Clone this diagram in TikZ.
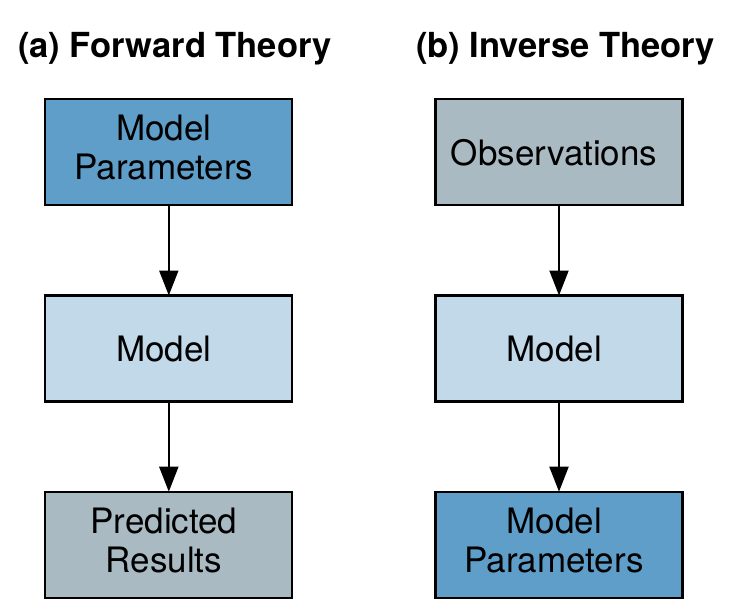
\documentclass[tikz,border=0pt]{standalone}
\usepackage{fontspec}
\setmainfont{TeX Gyre Heros}
\usetikzlibrary{matrix}
\usetikzlibrary{arrows.meta}
\definecolor{paramblue}{HTML}{5E9EC9}
\definecolor{modelblue}{HTML}{C1D9E9}
\definecolor{obsgrey}{HTML}{A9BAC3}
\newcommand{\boxfont}{\fontsize{35}{39}\selectfont}
\newcommand{\titlefont}{\fontsize{34.5}{39}\selectfont\bfseries}
\newcommand{\twolines}[2]{\begin{tabular}{@{}c@{}}#1\\#2\end{tabular}}

\begin{document}
\begin{tikzpicture}[x=1pt,y=1pt]
  \useasboundingbox (0,0) rectangle (738,-613);
  \node[anchor=base west,inner sep=0pt] (fwd) at (18,-57) {\titlefont (a) Forward Theory};
  \node[anchor=base west,inner sep=0pt] (inv) at (416,-57) {\titlefont (b) Inverse Theory};
  \matrix (m) [matrix of nodes,anchor=north west,inner sep=0pt,
    row sep=88pt,column sep=141pt,
    nodes={draw,line width=2.2pt,minimum width=247pt,minimum height=106pt,
      anchor=center,align=center,font=\boxfont,inner sep=2pt,outer sep=0pt}]
    at (44,-98)
  { |[fill=paramblue]| \twolines{Model}{Parameters} & |[fill=obsgrey]| Observations \\
    |[fill=modelblue]| Model & |[fill=modelblue]| Model \\
    |[fill=obsgrey]| \twolines{Predicted}{Results} & |[fill=paramblue]| \twolines{Model}{Parameters} \\};
  \path[-{Triangle[length=25pt,width=19pt]},line width=2pt]
    (m-1-1) edge node {} (m-2-1)
    (m-2-1) edge node {} (m-3-1)
    (m-1-2) edge node {} (m-2-2)
    (m-2-2) edge node {} (m-3-2);
\end{tikzpicture}
\end{document}
